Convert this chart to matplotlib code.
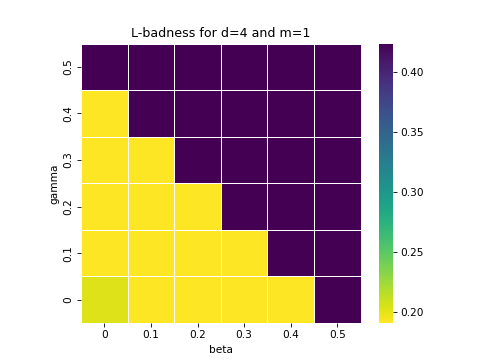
import numpy as np
import matplotlib
matplotlib.use("Agg")
import matplotlib.pyplot as plt
import seaborn as sns

betas = ["0", "0.1", "0.2", "0.3", "0.4", "0.5"]
gammas = ["0", "0.1", "0.2", "0.3", "0.4", "0.5"]

# rows: gamma 0 .. 0.5, cols: beta 0 .. 0.5
lbad = np.array([
    [0.203, 0.191, 0.191, 0.191, 0.191, 0.424],
    [0.191, 0.191, 0.191, 0.191, 0.424, 0.424],
    [0.191, 0.191, 0.191, 0.424, 0.424, 0.424],
    [0.191, 0.191, 0.424, 0.424, 0.424, 0.424],
    [0.191, 0.424, 0.424, 0.424, 0.424, 0.424],
    [0.424, 0.424, 0.424, 0.424, 0.424, 0.424],
])

fig = plt.figure(figsize=(6.4, 4.8), dpi=75.625)
ax = sns.heatmap(lbad, cmap="viridis_r", linewidths=0.5, linecolor="white",
                 square=True, xticklabels=betas, yticklabels=gammas)
ax.invert_yaxis()
plt.yticks(rotation=90)
plt.xticks(rotation=0)
plt.xlabel("beta")
plt.ylabel("gamma")
plt.title("L-badness for d=4 and m=1")
plt.savefig("out.png")
